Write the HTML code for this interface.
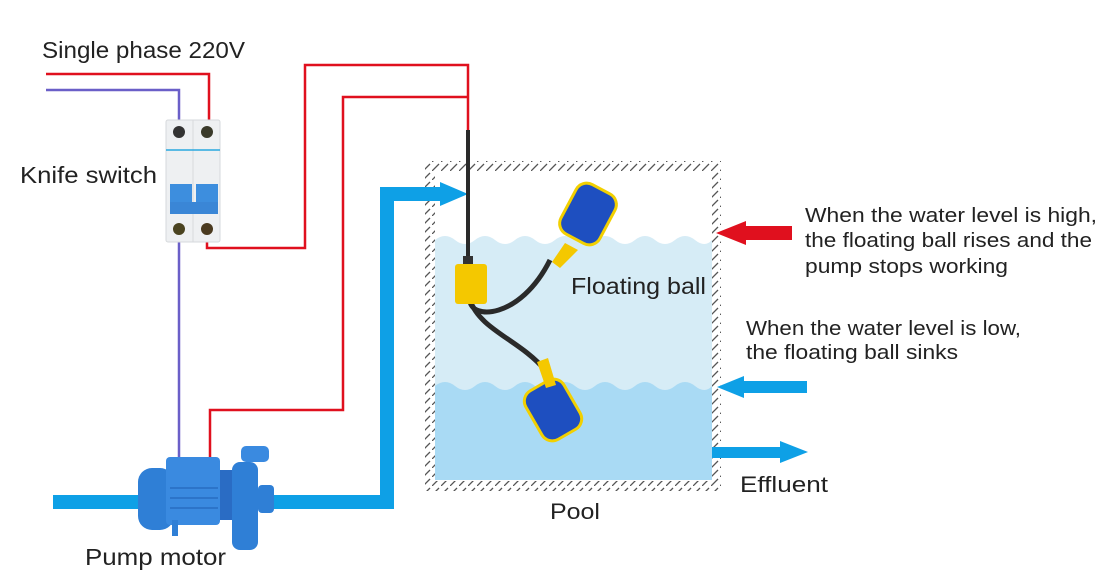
<!DOCTYPE html>
<html><head><meta charset="utf-8"><style>
html,body{margin:0;padding:0;background:#fff;}
svg{display:block;}
text{font-family:"Liberation Sans","DejaVu Sans",sans-serif;fill:#222;}
</style></head><body>
<svg width="1117" height="587" viewBox="0 0 1117 587" xmlns="http://www.w3.org/2000/svg">
<defs>
<pattern id="h" width="9" height="9" patternUnits="userSpaceOnUse">
<line x1="0" y1="9" x2="7" y2="2" stroke="#555" stroke-width="1.3"/>
</pattern>
</defs>
<rect x="425" y="161" width="296" height="330" fill="url(#h)"/>
<rect x="435" y="171" width="277" height="310" fill="#fff"/>
<path d="M435 240 q10 -8 20 0 t20 0 t20 0 t20 0 t20 0 t20 0 t20 0 t20 0 t20 0 t20 0 t20 0 t20 0 t20 0 t17 0 V480 H435 Z" fill="#d6ecf6"/>
<path d="M435 386 q10 -8 20 0 t20 0 t20 0 t20 0 t20 0 t20 0 t20 0 t20 0 t20 0 t20 0 t20 0 t20 0 t20 0 t17 0 V480 H435 Z" fill="#a9daf4"/>
<g fill="none" stroke-width="2.5">
<polyline points="46,90 179,90 179,128" stroke="#6a5fc8"/>
<polyline points="179,232 179,458" stroke="#6a5fc8"/>
<polyline points="46,74 209,74 209,128" stroke="#e0101e"/>
<polyline points="207,232 207,248 305,248 305,65 468,65 468,132" stroke="#e0101e"/>
<polyline points="468,97 343,97 343,410 210,410 210,458" stroke="#e0101e"/>
</g>
<rect x="166" y="120" width="54" height="122" rx="2" fill="#eef0f2" stroke="#d6d9dc"/>
<line x1="193" y1="120" x2="193" y2="242" stroke="#d8dadc"/>
<line x1="166" y1="150" x2="220" y2="150" stroke="#29a8e0" stroke-width="1.5"/>
<circle cx="179" cy="132" r="6" fill="#333"/><circle cx="207" cy="132" r="6" fill="#3a3a2a"/>
<circle cx="179" cy="229" r="6" fill="#4a4320"/><circle cx="207" cy="229" r="6" fill="#4a3a20"/>
<rect x="170" y="184" width="22" height="30" fill="#3d8ede"/>
<rect x="196" y="184" width="22" height="30" fill="#3d8ede"/>
<rect x="170" y="202" width="48" height="12" fill="#3a86d6"/>
<path d="M53 502 H387 V194 H442" fill="none" stroke="#0ea0e6" stroke-width="14"/>
<polygon points="440,182 468,194 440,206" fill="#0ea0e6"/>
<g fill="#2f7fd6">
<rect x="138" y="468" width="36" height="62" rx="14"/>
<rect x="166" y="457" width="54" height="68" rx="4" fill="#3a8ae0"/>
<rect x="220" y="470" width="14" height="50" fill="#2a6cc4"/>
<rect x="232" y="462" width="26" height="88" rx="8"/>
<rect x="258" y="485" width="16" height="28" rx="4"/>
<rect x="241" y="446" width="28" height="16" rx="5" fill="#3a8ae0"/>
<rect x="172" y="520" width="6" height="16"/>
</g>
<g stroke="#1d5fb2" stroke-width="1"><line x1="170" y1="488" x2="218" y2="488"/><line x1="170" y1="498" x2="218" y2="498"/><line x1="170" y1="508" x2="218" y2="508"/></g>
<path d="M470 300 C470 320 520 320 550 260" fill="none" stroke="#2a2a2a" stroke-width="5"/>
<path d="M470 300 C480 330 520 340 545 370" fill="none" stroke="#2a2a2a" stroke-width="5"/>
<line x1="468" y1="130" x2="468" y2="262" stroke="#2a2a2a" stroke-width="4"/>
<rect x="463" y="256" width="10" height="10" fill="#333"/>
<rect x="455" y="264" width="32" height="40" rx="3" fill="#f4c800"/>
<g transform="translate(588,214) rotate(28)">
<rect x="-22" y="-28" width="44" height="56" rx="12" fill="#1e4fc0" stroke="#f2d000" stroke-width="3"/>
</g>
<polygon points="565,243 578,250 560,268 552,262" fill="#f4c800"/>
<g transform="translate(553,410) rotate(-30)">
<rect x="-22" y="-28" width="44" height="56" rx="12" fill="#1e4fc0" stroke="#f2d000" stroke-width="3"/>
</g>
<polygon points="537,362 548,358 556,385 546,388" fill="#f4c800"/>
<rect x="740" y="226" width="52" height="14" fill="#e0101e"/>
<polygon points="746,221 746,245 716,233" fill="#e0101e"/>
<rect x="740" y="381" width="67" height="12" fill="#0ea0e6"/>
<polygon points="744,376 744,398 717,387" fill="#0ea0e6"/>
<rect x="712" y="447" width="70" height="11" fill="#0ea0e6"/>
<polygon points="780,441 780,463 808,452" fill="#0ea0e6"/>
<text x="42" y="58" font-size="23.5" textLength="203" lengthAdjust="spacingAndGlyphs">Single phase 220V</text>
<text x="20" y="183" font-size="23.5" textLength="137" lengthAdjust="spacingAndGlyphs">Knife switch</text>
<text x="571" y="294" font-size="23.5" textLength="135" lengthAdjust="spacingAndGlyphs">Floating ball</text>
<text x="805" y="222" font-size="20" textLength="292" lengthAdjust="spacingAndGlyphs">When the water level is high,</text>
<text x="805" y="247" font-size="20" textLength="287" lengthAdjust="spacingAndGlyphs">the floating ball rises and the</text>
<text x="805" y="273" font-size="20" textLength="203" lengthAdjust="spacingAndGlyphs">pump stops working</text>
<text x="746" y="335" font-size="20" textLength="275" lengthAdjust="spacingAndGlyphs">When the water level is low,</text>
<text x="746" y="359" font-size="20" textLength="212" lengthAdjust="spacingAndGlyphs">the floating ball sinks</text>
<text x="740" y="492" font-size="22.5" textLength="88" lengthAdjust="spacingAndGlyphs">Effluent</text>
<text x="550" y="519" font-size="22.5" textLength="50" lengthAdjust="spacingAndGlyphs">Pool</text>
<text x="85" y="565" font-size="23.5" textLength="141" lengthAdjust="spacingAndGlyphs">Pump motor</text>
</svg>
</body></html>
